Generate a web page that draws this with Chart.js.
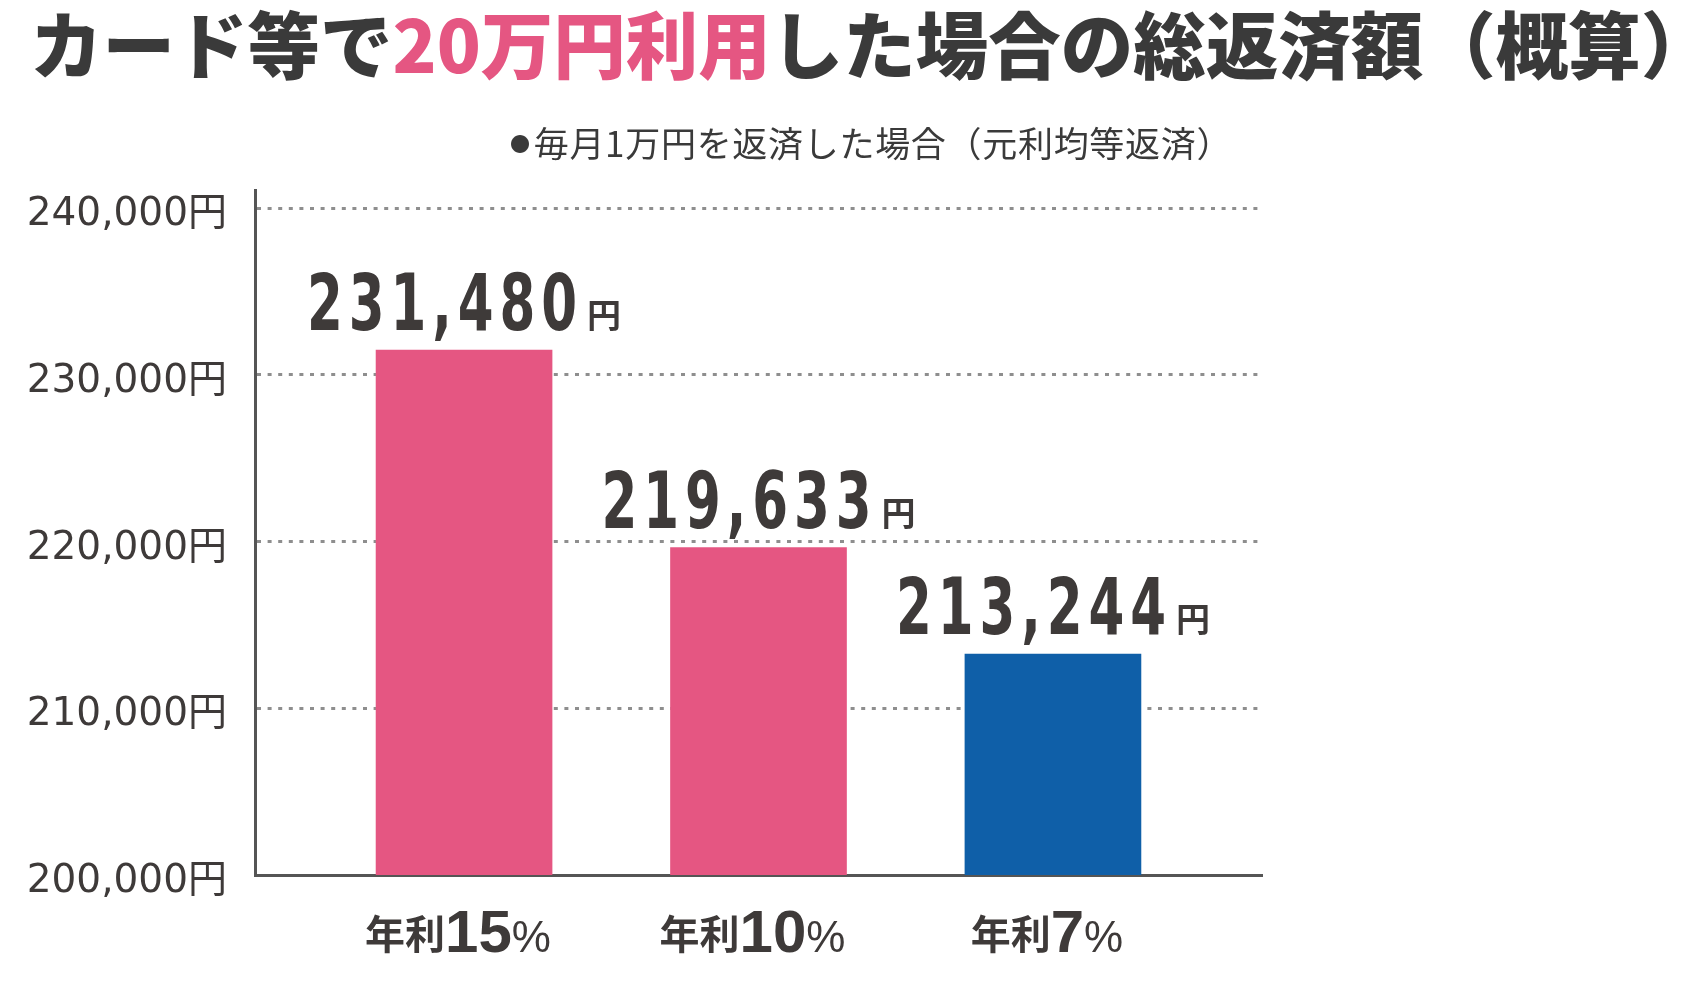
<!DOCTYPE html>
<html lang="ja">
<head>
<meta charset="utf-8">
<title>カード等で20万円利用した場合の総返済額（概算）</title>
<script src="https://cdn.jsdelivr.net/npm/chart.js@4.4.1/dist/chart.umd.min.js"></script>
<style>
    html, body { margin: 0; padding: 0; background: #fff; }
    #wrap { position: relative; width: 1698px; height: 986px; overflow: hidden; }
    #chart { position: absolute; left: 0; top: 0; }
    .title {
        position: absolute; left: 30px; top: 6px;
        font: 900 72.5px "Noto Sans CJK JP", sans-serif; line-height: 1;
        color: #3a3a3a; white-space: nowrap;
    }
    .title .hl { color: #e55682; }
    .sub {
        position: absolute; left: 510px; top: 124px;
        font: 400 35px "Noto Sans CJK JP", sans-serif; line-height: 1;
        letter-spacing: 0.7px;
        color: #3a3a3a; white-space: nowrap;
    }
    .sub .dot { font-size: 20px; vertical-align: 5px; margin-right: 3px; }
</style>
</head>
<body>
<div id="wrap">
    <canvas id="chart" width="1698" height="986"></canvas>
    <div class="title">カード等で<span class="hl">20万円利用</span>した場合の総返済額（概算）</div>
    <div class="sub"><span class="dot">●</span>毎月1万円を返済した場合（元利均等返済）</div>
</div>
<script>
// data
const categories = ['年利15%', '年利10%', '年利7%'];
const totals = [231480, 219633, 213244];
const yTicks = [200000, 210000, 220000, 230000, 240000];

const PINK = '#e55682';
const BLUE = '#0f5fa8';
const TEXT = '#3e3a39';
const yen = v => v.toLocaleString('en-US') + '円';

// amount above each bar: condensed heavy digits + small 円
const valueLabels = {
    id: 'valueLabels',
    afterDatasetsDraw(chart) {
        const ctx = chart.ctx;
        const numFont = 'bold 78px "DejaVu Sans", sans-serif';
        const yenFont = 'bold 34px "Noto Sans CJK JP", sans-serif';
        const sx = 0.66;
        chart.getDatasetMeta(0).data.forEach((bar, i) => {
            const num = totals[i].toLocaleString('en-US');
            ctx.save();
            ctx.fillStyle = TEXT;
            ctx.textBaseline = 'alphabetic';
            ctx.textAlign = 'left';
            ctx.font = numFont;
            ctx.letterSpacing = '9px';
            const wNum = ctx.measureText(num).width * sx;
            ctx.letterSpacing = '0px';
            ctx.font = yenFont;
            const wYen = ctx.measureText('円').width;
            const gap = 4;
            const left = bar.x - (wNum + gap + wYen) / 2;
            const base = bar.y - 20;
            ctx.save();
            ctx.translate(left, base);
            ctx.scale(sx, 1);
            ctx.font = numFont;
            ctx.letterSpacing = '9px';
            ctx.fillText(num, 0, 0);
            ctx.restore();
            ctx.font = yenFont;
            ctx.fillText('円', left + wNum + gap, base - 2);
            ctx.restore();
        });
    }
};

// category labels: 年利 + big rate + %
const xLabels = {
    id: 'xLabels',
    afterDraw(chart) {
        const ctx = chart.ctx;
        const xs = chart.scales.x;
        const base = chart.chartArea.bottom + 77;
        categories.forEach((label, i) => {
            const m = label.match(/^(\D+)(\d+)(%)$/);
            const parts = [
                { t: m[1], f: 'bold 40px "Noto Sans CJK JP", sans-serif', dy: -3, w: 0 },
                { t: m[2], f: 'bold 60px "Liberation Sans", sans-serif', dy: 0, w: 0 },
                { t: m[3], f: '44px "Liberation Sans", sans-serif', dy: 0, w: 0 }
            ];
            ctx.save();
            ctx.fillStyle = TEXT;
            ctx.textBaseline = 'alphabetic';
            ctx.textAlign = 'left';
            let total = 0;
            parts.forEach(p => { ctx.font = p.f; p.w = ctx.measureText(p.t).width; total += p.w; });
            let x = xs.getPixelForValue(i) - total / 2 - 6;
            parts.forEach(p => {
                ctx.font = p.f;
                ctx.fillText(p.t, x, base + p.dy);
                x += p.w;
            });
            ctx.restore();
        });
    }
};

new Chart(document.getElementById('chart'), {
    type: 'bar',
    data: {
        datasets: [{
            data: totals.map((v, i) => ({ x: i, y: v })),
            backgroundColor: ctx => ctx.dataIndex === categories.length - 1 ? BLUE : PINK,
            borderWidth: 0,
            barThickness: 176
        }]
    },
    options: {
        responsive: false,
        animation: false,
        layout: { padding: { left: 0, top: 190, right: 436, bottom: 0 } },
        plugins: {
            legend: { display: false },
            tooltip: { enabled: false }
        },
        scales: {
            x: {
                type: 'linear',
                offset: false,
                min: -0.71,
                max: 2.71,
                afterBuildTicks: axis => { axis.ticks = categories.map((c, i) => ({ value: i })); },
                afterFit: axis => { axis.height = 111; },
                grid: { display: false, offset: false },
                border: { color: '#555', width: 3 },
                ticks: { display: false }
            },
            y: {
                min: 200000,
                max: 241080,
                afterBuildTicks: axis => { axis.ticks = yTicks.map(v => ({ value: v })); },
                afterFit: axis => { axis.width = 255; },
                grid: {
                    color: ctx => (ctx.tick && ctx.tick.value === yTicks[0]) ? 'rgba(0,0,0,0)' : '#8e8e8e',
                    lineWidth: 3,
                    drawTicks: false
                },
                border: { color: '#555', width: 3, dash: [4, 6.6] },
                ticks: {
                    padding: 28,
                    labelOffset: 7,
                    color: TEXT,
                    font: { family: '"DejaVu Sans", "Noto Sans CJK JP", sans-serif', size: 39 },
                    callback: v => yen(v)
                }
            }
        }
    },
    plugins: [valueLabels, xLabels]
});
</script>
</body>
</html>
